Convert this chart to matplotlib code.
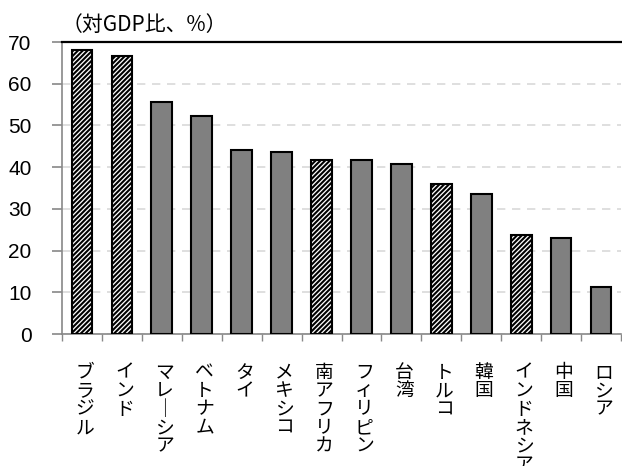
import matplotlib
matplotlib.use("Agg")
import matplotlib.pyplot as plt
import numpy as np

plt.rcParams['font.family'] = ['Noto Sans CJK JP', 'DejaVu Sans']
plt.rcParams['hatch.linewidth'] = 1.5

countries = ["ブラジル", "インド", "マレーシア", "ベトナム", "タイ", "メキシコ", "南アフリカ",
             "フィリピン", "台湾", "トルコ", "韓国", "インドネシア", "中国", "ロシア"]
values = [68.0, 66.7, 55.7, 52.3, 44.2, 43.7, 41.8, 41.8, 40.8, 36.0, 33.6, 23.7, 23.1, 11.2]
hatched = [True, True, False, False, False, False, True, False, False, True, False, True, False, False]
yticks = [0, 10, 20, 30, 40, 50, 60, 70]
unit_label = "（対GDP比、%）"

fig = plt.figure(figsize=(6.22, 4.66), dpi=100)
ax = fig.add_axes([62/622, 1-334/466, 559/622, 292/466])

x = np.arange(len(countries))
for xi, v, h in zip(x, values, hatched):
    if h:
        ax.bar(xi, v, width=0.52, color='white', edgecolor='black', hatch='///////', linewidth=1.5, zorder=3)
    else:
        ax.bar(xi, v, width=0.52, color='#808080', edgecolor='black', linewidth=1.5, zorder=3)

ax.set_xlim(-0.5, len(countries)-0.5)
ax.set_ylim(0, 70)
ax.set_yticks(yticks)
ax.set_yticklabels([str(t) for t in yticks], fontsize=15, family=['Liberation Sans'])
ax.yaxis.grid(True, linestyle=(0, (5, 4)), color='#d9d9d9', linewidth=1.2, zorder=0)
ax.tick_params(axis='y', length=7, width=1.2, color='#888888', pad=15)

ax.set_xticks(x)
ax.set_xticklabels([])
ax.tick_params(axis='x', which='major', length=0)
ax.set_xticks(np.arange(-0.5, len(countries), 1.0), minor=True)
ax.tick_params(axis='x', which='minor', length=5, width=1.0, color='#888888')

for s in ['left', 'bottom']:
    ax.spines[s].set_color('#888888')
    ax.spines[s].set_linewidth(1.2)
ax.spines['top'].set_color('black')
ax.spines['top'].set_linewidth(1.6)
ax.spines['right'].set_visible(False)

for xi, name in zip(x, countries):
    vert = "\n".join(name.replace("ー", "｜"))
    ax.text(xi + 0.07, -0.095, vert, transform=ax.get_xaxis_transform(), ha='center', va='top',
            fontsize=13.5, linespacing=0.84)

fig.text(62/622, 1-25/466, unit_label, fontsize=15, ha='left', va='center')

fig.savefig("out.png", dpi=100)
